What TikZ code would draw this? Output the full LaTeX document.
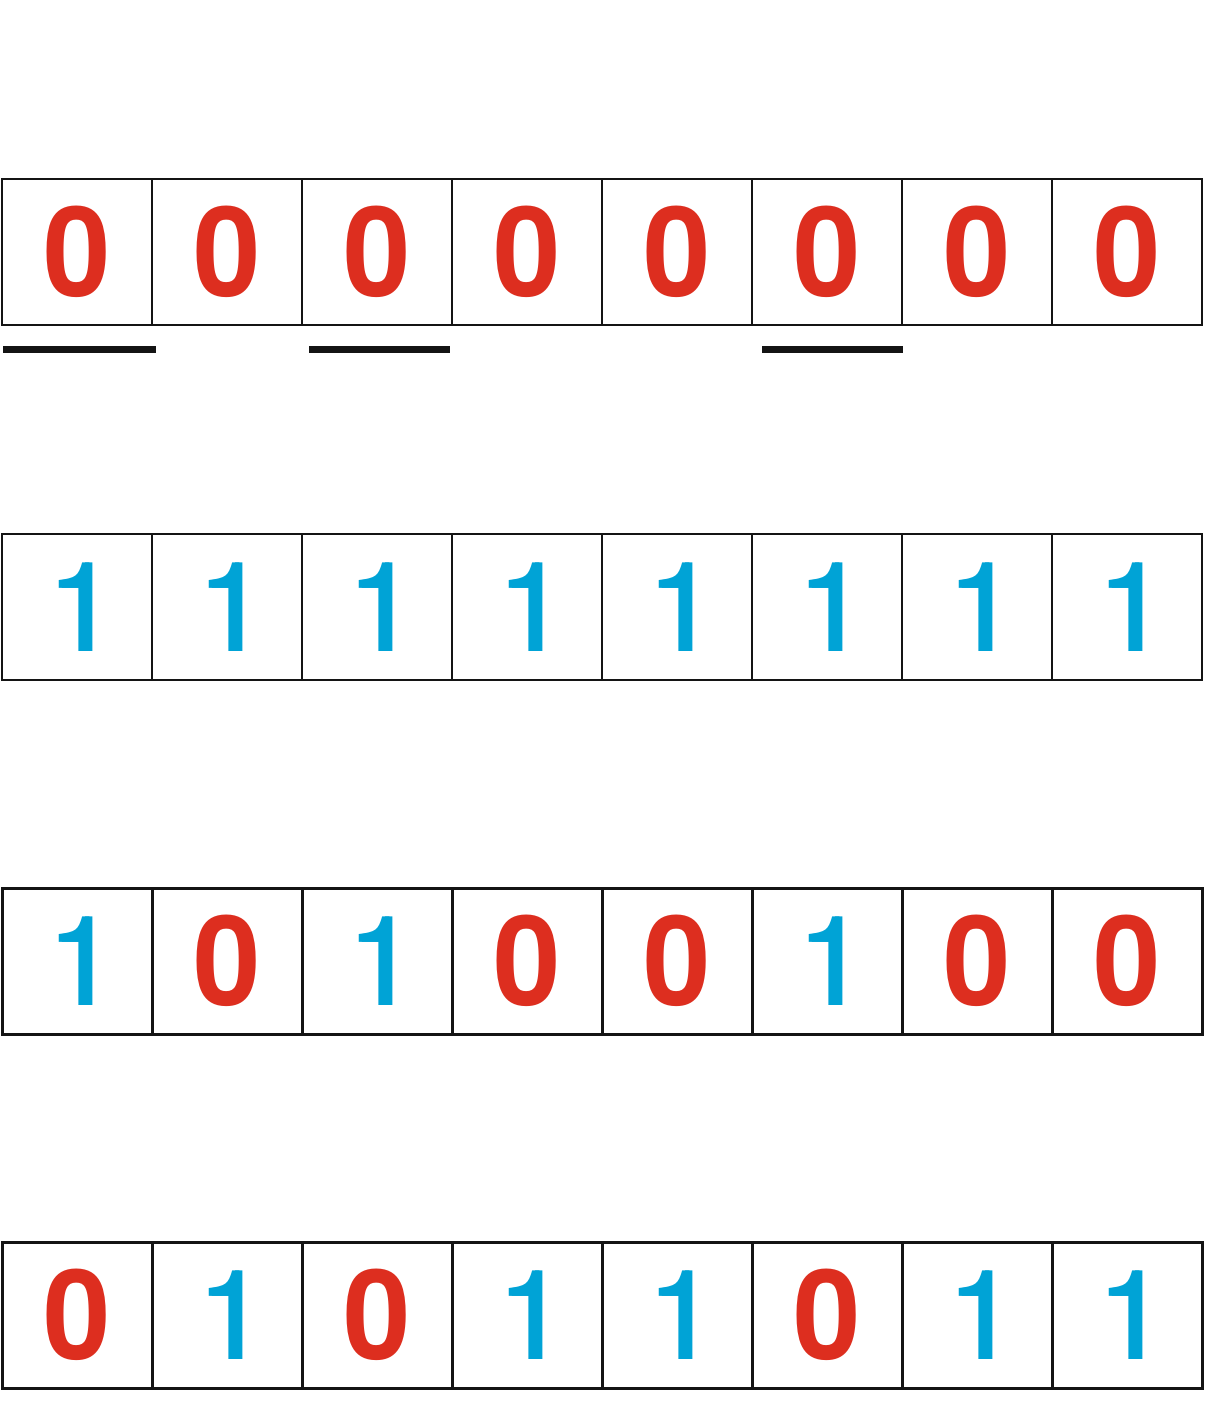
\documentclass[tikz,border=0pt]{standalone}
\usepackage{fontspec}
\usepackage{graphicx}
\setmainfont{TeX Gyre Heros}
\definecolor{digred}{HTML}{DD2E1F}
\definecolor{digblue}{HTML}{00A3D6}
\newcommand{\zerodigit}{\scalebox{0.97}[1]{\bfseries 0}}
\newcommand{\onedigit}{\hbox{\kern12pt\rlap{1}\kern2.6pt 1}}
\begin{document}
\begin{tikzpicture}[x=1pt,y=-1pt,
  cell/.style={draw=black!92,line width=2pt,minimum width=150pt,minimum height=146pt,inner sep=0pt,outer sep=0pt},
  zero/.style={cell,text=digred,font=\fontsize{125}{125}\selectfont},
  one/.style={cell,text=digblue,font=\fontsize{125}{125}\selectfont},
  heavy/.style={line width=3pt},
  bar/.style={line width=7pt,draw=black!92}]
\useasboundingbox (0,0) rectangle (1206,1414);
\fill[white] (0,0) rectangle (1206,1414);
% row 1
\foreach \i in {0,...,7} {
  \node[zero] (a\i) at ({77+150*\i},252) {\zerodigit};
}
% row 2
\foreach \i in {0,...,7} {
  \node[one] (b\i) at ({77+150*\i},607) {\onedigit};
}
% row 3: 1 0 1 0 0 1 0 0
\foreach \d [count=\i from 0] in {1,0,1,0,0,1,0,0} {
  \ifnum\d=1
    \node[one,heavy] (c\i) at ({77+150*\i},961) {\onedigit};
  \else
    \node[zero,heavy] (c\i) at ({77+150*\i},961) {\zerodigit};
  \fi
}
% row 4: 0 1 0 1 1 0 1 1
\foreach \d [count=\i from 0] in {0,1,0,1,1,0,1,1} {
  \ifnum\d=1
    \node[one,heavy] (d\i) at ({77+150*\i},1315) {\onedigit};
  \else
    \node[zero,heavy] (d\i) at ({77+150*\i},1315) {\zerodigit};
  \fi
}
% underlines
\draw[bar] (3,349) -- (156,349);
\draw[bar] (309,349) -- (450,349);
\draw[bar] (762,349) -- (903,349);
\end{tikzpicture}
\end{document}
